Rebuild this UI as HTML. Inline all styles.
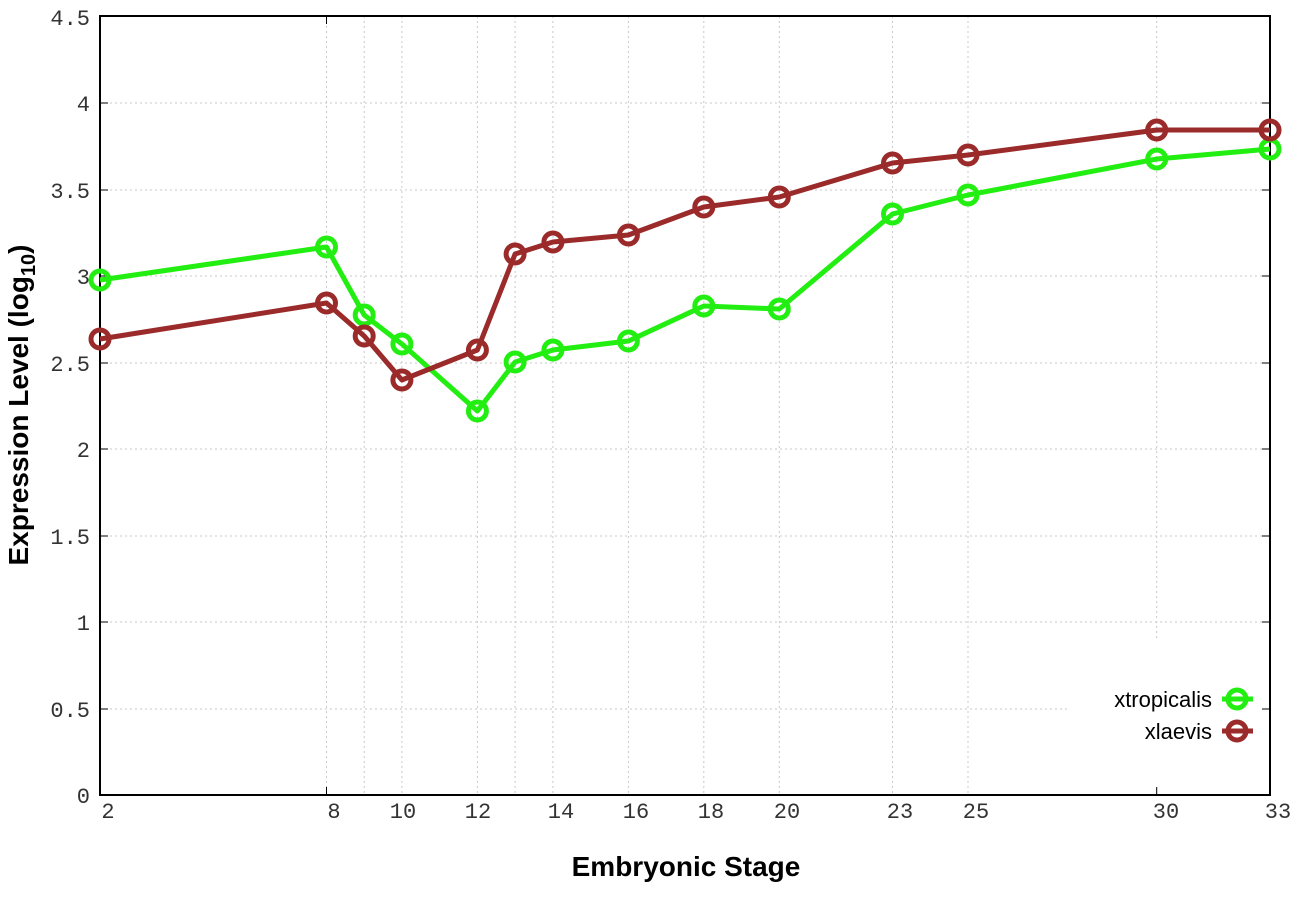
<!DOCTYPE html>
<html><head><style>body{margin:0;background:#fff}svg{display:block}</style></head><body>
<svg width="1296" height="907" xmlns="http://www.w3.org/2000/svg">
<rect width="1296" height="907" fill="#fff"/>
<g stroke="#c8c8c8" stroke-width="1" stroke-dasharray="2,3">
<line x1="100" x2="1270" y1="103" y2="103"/><line x1="100" x2="1270" y1="190" y2="190"/><line x1="100" x2="1270" y1="276" y2="276"/><line x1="100" x2="1270" y1="363" y2="363"/><line x1="100" x2="1270" y1="449" y2="449"/><line x1="100" x2="1270" y1="536" y2="536"/><line x1="100" x2="1270" y1="622" y2="622"/><line x1="100" x2="1070" y1="709" y2="709"/>
<line y1="16" y2="795" x1="326.5" x2="326.5"/><line y1="16" y2="795" x1="364.2" x2="364.2"/><line y1="16" y2="795" x1="401.9" x2="401.9"/><line y1="16" y2="795" x1="477.4" x2="477.4"/><line y1="16" y2="795" x1="515.1" x2="515.1"/><line y1="16" y2="795" x1="552.9" x2="552.9"/><line y1="16" y2="795" x1="628.4" x2="628.4"/><line y1="16" y2="795" x1="703.8" x2="703.8"/><line y1="16" y2="795" x1="779.3" x2="779.3"/><line y1="16" y2="795" x1="892.5" x2="892.5"/><line y1="16" y2="795" x1="968" x2="968"/><line y1="16" y2="640" x1="1156.7" x2="1156.7"/>
</g>
<g stroke="#000" stroke-width="1">
<line x1="100" x2="108" y1="103" y2="103"/><line x1="100" x2="108" y1="190" y2="190"/><line x1="100" x2="108" y1="276" y2="276"/><line x1="100" x2="108" y1="363" y2="363"/><line x1="100" x2="108" y1="449" y2="449"/><line x1="100" x2="108" y1="536" y2="536"/><line x1="100" x2="108" y1="622" y2="622"/><line x1="100" x2="108" y1="709" y2="709"/>
<line x1="1262" x2="1270" y1="103" y2="103"/><line x1="1262" x2="1270" y1="190" y2="190"/><line x1="1262" x2="1270" y1="276" y2="276"/><line x1="1262" x2="1270" y1="363" y2="363"/><line x1="1262" x2="1270" y1="449" y2="449"/><line x1="1262" x2="1270" y1="536" y2="536"/><line x1="1262" x2="1270" y1="622" y2="622"/><line x1="1262" x2="1270" y1="709" y2="709"/>
<line y1="795" y2="787" x1="326.5" x2="326.5"/><line y1="795" y2="787" x1="1156.7" x2="1156.7"/><line y1="16" y2="24" x1="326.5" x2="326.5"/>
</g>
<rect x="100" y="16" width="1170" height="779" fill="none" stroke="#000" stroke-width="2"/>
<g font-family="Liberation Mono, monospace" font-size="22" fill="#333" text-anchor="end">
<text x="90" y="25">4.5</text><text x="90" y="111">4</text><text x="90" y="198">3.5</text><text x="90" y="284">3</text><text x="90" y="371">2.5</text><text x="90" y="457">2</text><text x="90" y="544">1.5</text><text x="90" y="630">1</text><text x="90" y="717">0.5</text><text x="90" y="803">0</text>
</g>
<g font-family="Liberation Mono, monospace" font-size="22" fill="#333" text-anchor="middle">
<text x="108" y="818">2</text><text x="334" y="818">8</text><text x="403" y="818">10</text><text x="478" y="818">12</text><text x="561" y="818">14</text><text x="636" y="818">16</text><text x="711" y="818">18</text><text x="787" y="818">20</text><text x="900" y="818">23</text><text x="976" y="818">25</text><text x="1166" y="818">30</text><text x="1278" y="818">33</text>
</g>
<text x="686" y="876" font-family="Liberation Sans, sans-serif" font-size="28" font-weight="bold" text-anchor="middle">Embryonic Stage</text>
<text transform="translate(28,405) rotate(-90)" font-family="Liberation Sans, sans-serif" font-size="28" font-weight="bold" text-anchor="middle">Expression Level (log<tspan font-size="20" dy="7">10</tspan><tspan dy="-7">)</tspan></text>
<g fill="none" stroke-width="5" stroke-linejoin="round">
<polyline stroke="#22ee11" points="100,280 326.5,247 364.2,315 401.9,344 477.4,411 515.1,362 552.9,350 628.4,341 703.8,306 779.3,309 892.5,214 968,195 1156.7,159 1270,149"/>
<polyline stroke="#9b2a2a" points="100,339 326.5,303 364.2,336 401.9,380 477.4,350 515.1,254 552.9,242 628.4,235 703.8,207 779.3,197 892.5,163 968,155 1156.7,130 1270,130"/>
<g stroke="#22ee11">
<circle cx="100" cy="280" r="9"/><circle cx="326.5" cy="247" r="9"/><circle cx="364.2" cy="315" r="9"/><circle cx="401.9" cy="344" r="9"/><circle cx="477.4" cy="411" r="9"/><circle cx="515.1" cy="362" r="9"/><circle cx="552.9" cy="350" r="9"/><circle cx="628.4" cy="341" r="9"/><circle cx="703.8" cy="306" r="9"/><circle cx="779.3" cy="309" r="9"/><circle cx="892.5" cy="214" r="9"/><circle cx="968" cy="195" r="9"/><circle cx="1156.7" cy="159" r="9"/><circle cx="1270" cy="149" r="9"/>
<line x1="1222" x2="1253" y1="699" y2="699"/><circle cx="1237" cy="699" r="9"/>
</g>
<g stroke="#9b2a2a">
<circle cx="100" cy="339" r="9"/><circle cx="326.5" cy="303" r="9"/><circle cx="364.2" cy="336" r="9"/><circle cx="401.9" cy="380" r="9"/><circle cx="477.4" cy="350" r="9"/><circle cx="515.1" cy="254" r="9"/><circle cx="552.9" cy="242" r="9"/><circle cx="628.4" cy="235" r="9"/><circle cx="703.8" cy="207" r="9"/><circle cx="779.3" cy="197" r="9"/><circle cx="892.5" cy="163" r="9"/><circle cx="968" cy="155" r="9"/><circle cx="1156.7" cy="130" r="9"/><circle cx="1270" cy="130" r="9"/>
<line x1="1222" x2="1253" y1="731" y2="731"/><circle cx="1237" cy="731" r="9"/>
</g>
</g>
<g font-family="Liberation Sans, sans-serif" font-size="22" text-anchor="end" fill="#000">
<text x="1212" y="707">xtropicalis</text><text x="1212" y="739">xlaevis</text>
</g>
</svg>
</body></html>
